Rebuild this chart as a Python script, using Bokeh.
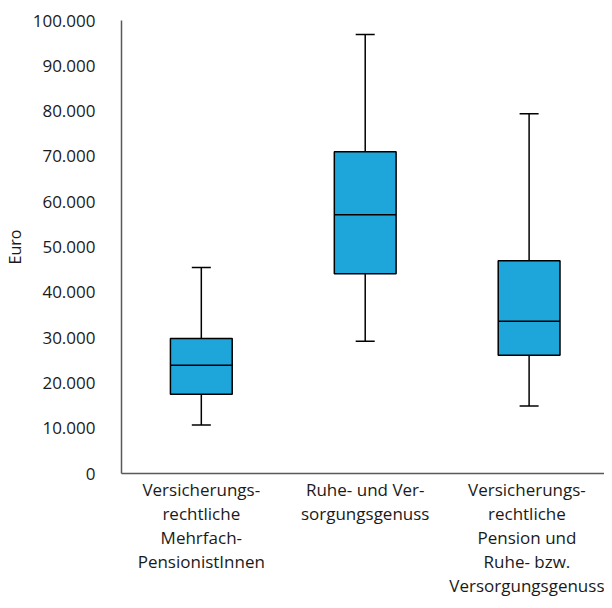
from bokeh.plotting import figure
from bokeh.models import Range1d, FixedTicker
from bokeh.embed import file_html
from bokeh.resources import INLINE

# ---- data ----
categories = [
    "Versicherungs-\nrechtliche\nMehrfach-\nPensionistInnen",
    "Ruhe- und Ver-\nsorgungsgenuss",
    "Versicherungs-\nrechtliche\nPension und\nRuhe- bzw.\nVersorgungsgenuss",
]
lower = [10700, 29200, 14900]
q1 = [17500, 44100, 26100]
median = [23900, 57100, 33600]
q3 = [29800, 71000, 46950]
upper = [45500, 96900, 79400]

y_ticks = [0, 10000, 20000, 30000, 40000, 50000, 60000, 70000, 80000, 90000, 100000]
y_tick_labels = ["0", "10.000", "20.000", "30.000", "40.000", "50.000",
                 "60.000", "70.000", "80.000", "90.000", "100.000"]

# ---- style ----
FONT = "Open Sans"
TEXT_COLOR = "#1a1a1a"
AXIS_COLOR = "#595959"
BOX_COLOR = "#1EA5DA"
BOX_W = 0.377
CAP_W = 0.116

xs = list(range(len(categories)))

p = figure(width=604, height=600, output_backend="svg", toolbar_location=None,
           x_range=Range1d(-0.487, 2.46), y_range=Range1d(0, 100000),
           min_border_left=119, min_border_right=0, min_border_top=20,
           min_border_bottom=127)

p.outline_line_color = None
p.xgrid.visible = False
p.ygrid.visible = False
p.background_fill_color = "white"
p.border_fill_color = "white"

# whiskers
p.segment(x0=xs, y0=q3, x1=xs, y1=upper, line_color="black", line_width=1.5)
p.segment(x0=xs, y0=q1, x1=xs, y1=lower, line_color="black", line_width=1.5)
# caps
p.segment(x0=[x - CAP_W / 2 for x in xs], y0=upper, x1=[x + CAP_W / 2 for x in xs], y1=upper,
          line_color="black", line_width=1.5)
p.segment(x0=[x - CAP_W / 2 for x in xs], y0=lower, x1=[x + CAP_W / 2 for x in xs], y1=lower,
          line_color="black", line_width=1.5)
# boxes
p.vbar(x=xs, width=BOX_W, bottom=q1, top=q3, fill_color=BOX_COLOR,
       line_color="black", line_width=1.5)
# medians
p.segment(x0=[x - BOX_W / 2 for x in xs], y0=median, x1=[x + BOX_W / 2 for x in xs], y1=median,
          line_color="black", line_width=1.5)

# y axis
ya = p.yaxis[0]
ya.ticker = FixedTicker(ticks=y_ticks)
ya.major_label_overrides = {t: l for t, l in zip(y_ticks, y_tick_labels)}
ya.major_tick_line_color = None
ya.major_tick_out = 0
ya.major_tick_in = 0
ya.minor_tick_line_color = None
ya.minor_tick_out = 0
ya.axis_line_color = AXIS_COLOR
ya.axis_line_width = 1.5
ya.major_label_text_font = FONT
ya.major_label_text_font_size = "17px"
ya.major_label_text_color = TEXT_COLOR
ya.major_label_standoff = 26
ya.axis_label = "Euro"
ya.axis_label_text_font = FONT
ya.axis_label_text_font_size = "16px"
ya.axis_label_text_font_style = "normal"
ya.axis_label_text_color = TEXT_COLOR
ya.axis_label_standoff = 4

# x axis
xa = p.xaxis[0]
xa.ticker = FixedTicker(ticks=xs)
xa.major_label_overrides = {x: c for x, c in zip(xs, categories)}
xa.major_tick_line_color = None
xa.major_tick_out = 0
xa.major_tick_in = 0
xa.minor_tick_line_color = None
xa.minor_tick_out = 0
xa.axis_line_color = AXIS_COLOR
xa.axis_line_width = 1.5
xa.major_label_text_font = FONT
xa.major_label_text_font_size = "17px"
xa.major_label_text_color = TEXT_COLOR
xa.major_label_text_line_height = 1.05
xa.major_label_standoff = 4

open("out.html", "w").write(file_html(p, INLINE))
